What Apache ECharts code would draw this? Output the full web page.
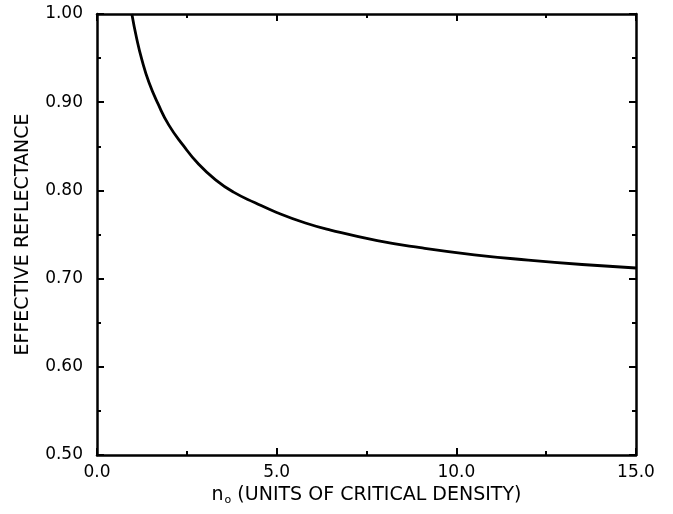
<!DOCTYPE html>
<html>
<head>
<meta charset="utf-8">
<script src="https://cdn.jsdelivr.net/npm/echarts@6/dist/echarts.min.js"></script>
<style>
html,body{margin:0;padding:0;background:#fff;}
#chart{width:673px;height:514px;}
</style>
</head>
<body>
<div id="chart"></div>
<script>
// Data
var densityValues = [0.97, 1.1, 1.25, 1.45, 1.7, 2.0, 2.4, 2.8, 3.3, 3.8, 4.4, 5.0, 5.8, 6.5, 7.8, 9.0, 10.5, 12.0, 13.5, 15.0];
var reflectanceValues = [1.0, 0.973, 0.948, 0.922, 0.898, 0.874, 0.851, 0.831, 0.812, 0.798, 0.786, 0.775, 0.763, 0.755, 0.743, 0.735, 0.727, 0.721, 0.716, 0.712];
var xTickValues = [0, 5, 10, 15];
var yTickValues = [0.5, 0.6, 0.7, 0.8, 0.9, 1.0];
var xAxisTitle = 'UNITS OF CRITICAL DENSITY';
var yAxisTitle = 'EFFECTIVE REFLECTANCE';

var seriesData = densityValues.map(function (n, i) { return [n, reflectanceValues[i]]; });

var FONT = 'DejaVu Sans';
var axisLineStyle = { color: '#000', width: 2.5 };

function xAxisCfg(pos, showLabels) {
  return {
    type: 'value', position: pos,
    min: xTickValues[0], max: xTickValues[xTickValues.length - 1], interval: 5,
    axisLine: { show: true, onZero: false, lineStyle: axisLineStyle },
    axisTick: { show: true, inside: true, length: 7, lineStyle: { color: '#000', width: 2 } },
    minorTick: { show: true, splitNumber: 2, length: 4, lineStyle: { color: '#000', width: 2 } },
    splitLine: { show: false },
    axisLabel: {
      show: showLabels, margin: 9, color: '#000', fontFamily: FONT, fontSize: 17,
      formatter: function (v) { return v.toFixed(1); }
    }
  };
}
function yAxisCfg(pos, showLabels) {
  return {
    type: 'value', position: pos,
    min: yTickValues[0], max: yTickValues[yTickValues.length - 1], interval: 0.1,
    axisLine: { show: true, onZero: false, lineStyle: axisLineStyle },
    axisTick: { show: true, inside: true, length: 7, lineStyle: { color: '#000', width: 2 } },
    minorTick: { show: true, splitNumber: 2, length: 4, lineStyle: { color: '#000', width: 2 } },
    splitLine: { show: false },
    axisLabel: {
      show: showLabels, margin: 14, color: '#000', fontFamily: FONT, fontSize: 17,
      formatter: function (v) { return v.toFixed(2); }
    }
  };
}

var bottomX = xAxisCfg('bottom', true);
bottomX.name = '{n|n}{sub|o}{t| (' + xAxisTitle + ')}';
bottomX.nameLocation = 'middle';
bottomX.nameGap = 26;
bottomX.nameTextStyle = {
  color: '#000', fontFamily: FONT, fontSize: 19,
  rich: {
    n: { fontFamily: FONT, fontSize: 19, color: '#000' },
    sub: { fontFamily: FONT, fontSize: 11, color: '#000', padding: [10, 0, 0, 1] },
    t: { fontFamily: FONT, fontSize: 19, color: '#000' }
  }
};
var topX = xAxisCfg('top', false);

var leftY = yAxisCfg('left', true);
leftY.name = yAxisTitle;
leftY.nameLocation = 'middle';
leftY.nameGap = 64;
leftY.nameTextStyle = { color: '#000', fontFamily: FONT, fontSize: 19 };
var rightY = yAxisCfg('right', false);

var chart = echarts.init(document.getElementById('chart'), null, { renderer: 'canvas' });
chart.setOption({
  animation: false,
  backgroundColor: '#fff',
  grid: { left: 97, right: 37, top: 14, bottom: 59, containLabel: false },
  xAxis: [bottomX, topX],
  yAxis: [leftY, rightY],
  series: [{
    type: 'line',
    xAxisIndex: 0, yAxisIndex: 0,
    data: seriesData,
    smooth: 0.5,
    showSymbol: false,
    lineStyle: { color: '#000', width: 2.8 },
    itemStyle: { color: '#000' }
  }]
});
</script>
</body>
</html>
